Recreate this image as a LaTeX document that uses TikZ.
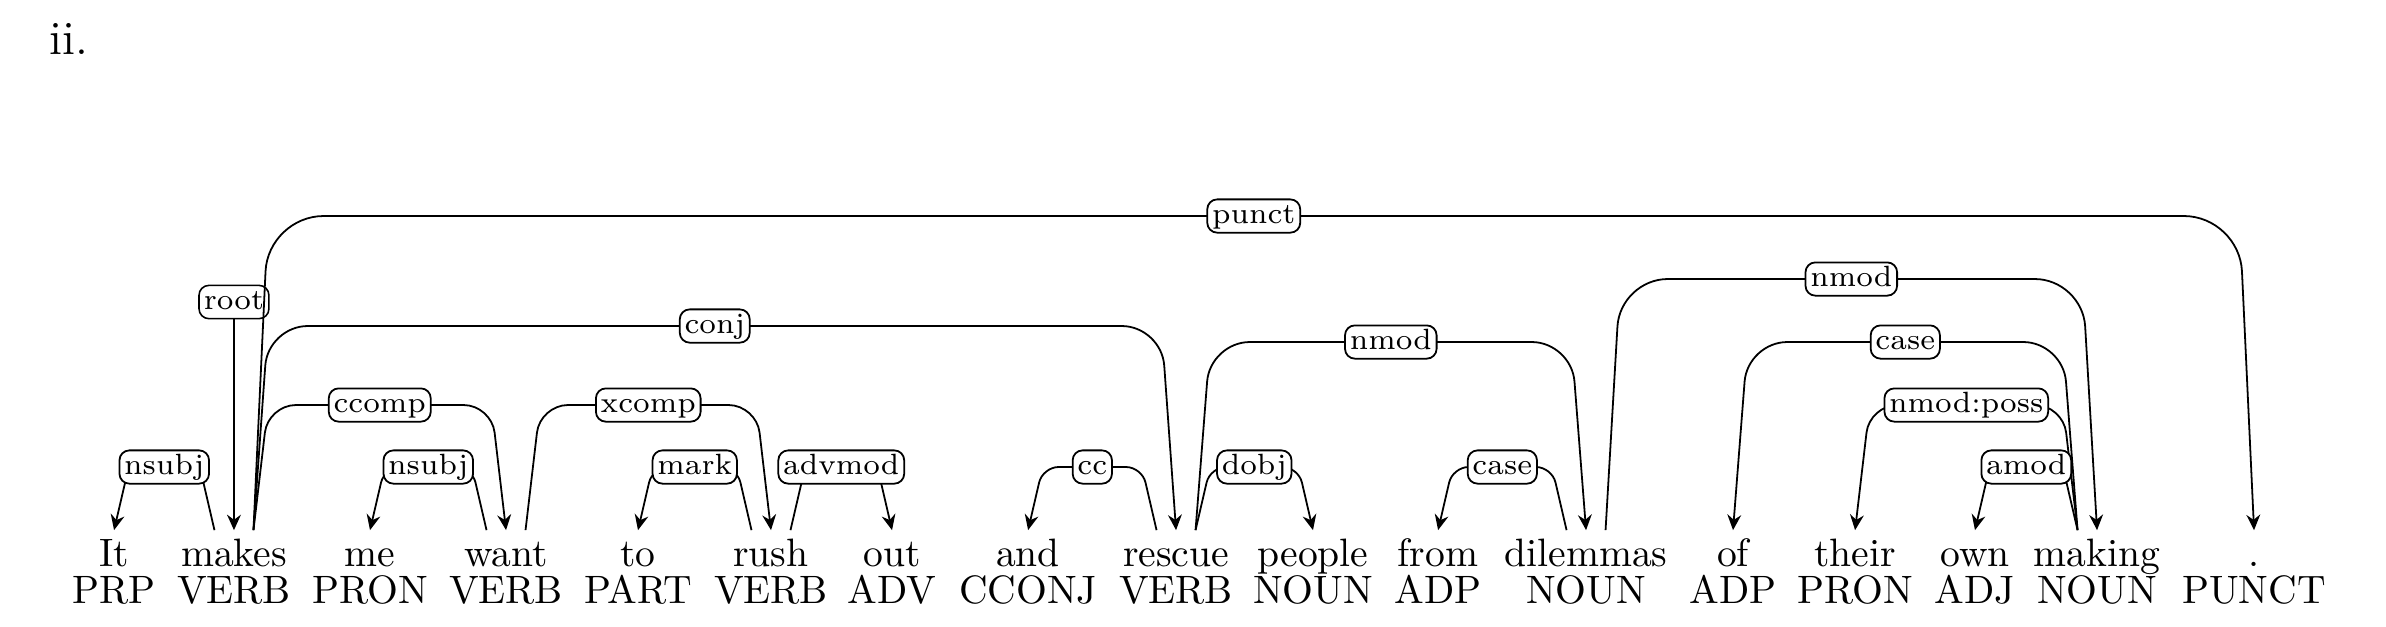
\documentclass[tikz,border=0pt]{standalone}
\usepackage{fontspec}
\usetikzlibrary{arrows.meta}

\tikzset{
  word/.style={anchor=base, inner sep=0pt, outer sep=0pt, text height=9.3pt, text depth=0pt},
  tagtext/.style={anchor=base, inner sep=0pt},
  lab/.style={draw, fill=white, rounded corners=2.5pt, inner xsep=1.2pt, inner ysep=0.8pt,
    text height=5.3pt, text depth=1.5pt, font=\fontsize{7.4}{9}\selectfont},
  deparc/.style={draw, line width=0.45pt, -{Stealth[length=3.9pt, width=3.5pt, inset=1.3pt]}, rounded corners=#1},
  deparc/.default=4pt
}

\begin{document}
\begin{tikzpicture}
        \useasboundingbox (0, 0) rectangle (21.171, 5.555);
        \node[anchor=base west, inner sep=0pt, font=\large] (num) at (0.435, 5.067) {ii.};

        % words
        \node[word] (it) at (1.012, 0.524) {It};
        \node[word] (makes) at (2.076, 0.524) {makes};
        \node[word] (me) at (3.283, 0.524) {me};
        \node[word] (want) at (4.490, 0.524) {want};
        \node[word] (to) at (5.661, 0.524) {to};
        \node[word] (rush) at (6.841, 0.524) {rush};
        \node[word] (out) at (7.915, 0.524) {out};
        \node[word] (and) at (9.122, 0.524) {and};
        \node[word] (rescue) at (10.435, 0.524) {rescue};
        \node[word] (people) at (11.650, 0.524) {people};
        \node[word] (from) at (12.760, 0.524) {from};
        \node[word] (dilemmas) at (14.073, 0.524) {dilemmas};
        \node[word] (of) at (15.377, 0.524) {of};
        \node[word] (their) at (16.460, 0.524) {their};
        \node[word] (own) at (17.524, 0.524) {own};
        \node[word] (making) at (18.607, 0.524) {making};
        \node[word] (dot) at (20.000, 0.524) {.};

        % tags
        \node[tagtext] (it-t) at (1.012, 0.204) {PRP};
        \node[tagtext] (makes-t) at (2.076, 0.204) {VERB};
        \node[tagtext] (me-t) at (3.283, 0.204) {PRON};
        \node[tagtext] (want-t) at (4.490, 0.204) {VERB};
        \node[tagtext] (to-t) at (5.661, 0.204) {PART};
        \node[tagtext] (rush-t) at (6.841, 0.204) {VERB};
        \node[tagtext] (out-t) at (7.915, 0.204) {ADV};
        \node[tagtext] (and-t) at (9.122, 0.204) {CCONJ};
        \node[tagtext] (rescue-t) at (10.435, 0.204) {VERB};
        \node[tagtext] (people-t) at (11.650, 0.204) {NOUN};
        \node[tagtext] (from-t) at (12.760, 0.204) {ADP};
        \node[tagtext] (dilemmas-t) at (14.073, 0.204) {NOUN};
        \node[tagtext] (of-t) at (15.377, 0.204) {ADP};
        \node[tagtext] (their-t) at (16.460, 0.204) {PRON};
        \node[tagtext] (own-t) at (17.524, 0.204) {ADJ};
        \node[tagtext] (making-t) at (18.607, 0.204) {NOUN};
        \node[tagtext] (dot-t) at (20.000, 0.204) {PUNCT};

        % root
        \node[lab] (root) at (2.076, 2.875) {root};
        \draw[deparc] (root) -- (makes.north);

        % arcs
        \draw[deparc] ([xshift=-0.173cm]makes.north) -- (1.773, 1.411) -- node[lab] (nsubj1) {nsubj} (1.142, 1.411) -- (it.north);
        \draw[deparc=7pt] ([xshift=0.173cm]makes.north) -- (2.379, 1.961) -- node[lab] (ccomp) {ccomp} (4.360, 1.961) -- (want.north);
        \draw[deparc=10pt] ([xshift=0.173cm]makes.north) -- (2.379, 2.662) -- node[lab] (conj) {conj} (10.305, 2.662) -- (rescue.north);
        \draw[deparc=14pt] ([xshift=0.173cm]makes.north) -- (2.379, 3.638) -- node[lab] (punct) {punct} (19.870, 3.638) -- (dot.north);
        \draw[deparc] ([xshift=-0.173cm]want.north) -- (4.187, 1.411) -- node[lab] (nsubj2) {nsubj} (3.413, 1.411) -- (me.north);
        \draw[deparc=7pt] ([xshift=0.173cm]want.north) -- (4.793, 1.961) -- node[lab] (xcomp) {xcomp} (6.711, 1.961) -- (rush.north);
        \draw[deparc] ([xshift=-0.173cm]rush.north) -- (6.538, 1.411) -- node[lab] (mark) {mark} (5.791, 1.411) -- (to.north);
        \draw[deparc] ([xshift=0.173cm]rush.north) -- (7.144, 1.411) -- node[lab] (advmod) {advmod} (7.785, 1.411) -- (out.north);
        \draw[deparc] ([xshift=-0.173cm]rescue.north) -- (10.132, 1.411) -- node[lab] (cc) {cc} (9.252, 1.411) -- (and.north);
        \draw[deparc] ([xshift=0.173cm]rescue.north) -- (10.738, 1.411) -- node[lab] (dobj) {dobj} (11.520, 1.411) -- (people.north);
        \draw[deparc=10pt] ([xshift=0.173cm]rescue.north) -- (10.738, 2.520) -- node[lab] (nmod1) {nmod} (13.943, 2.520) -- (dilemmas.north);
        \draw[deparc] ([xshift=-0.173cm]dilemmas.north) -- (13.770, 1.411) -- node[lab] (case1) {case} (12.890, 1.411) -- (from.north);
        \draw[deparc=12pt] ([xshift=0.173cm]dilemmas.north) -- (14.376, 3.079) -- node[lab] (nmod2) {nmod} (18.477, 3.079) -- (making.north);
        \draw[deparc=10pt] ([xshift=-0.173cm]making.north) -- (18.304, 2.520) -- node[lab] (case2) {case} (15.507, 2.520) -- (of.north);
        \draw[deparc=7pt] ([xshift=-0.173cm]making.north) -- (18.304, 1.961) -- node[lab] (poss) {nmod:poss} (16.590, 1.961) -- (their.north);
        \draw[deparc] ([xshift=-0.173cm]making.north) -- (18.304, 1.411) -- node[lab] (amod) {amod} (17.654, 1.411) -- (own.north);
\end{tikzpicture}
\end{document}
